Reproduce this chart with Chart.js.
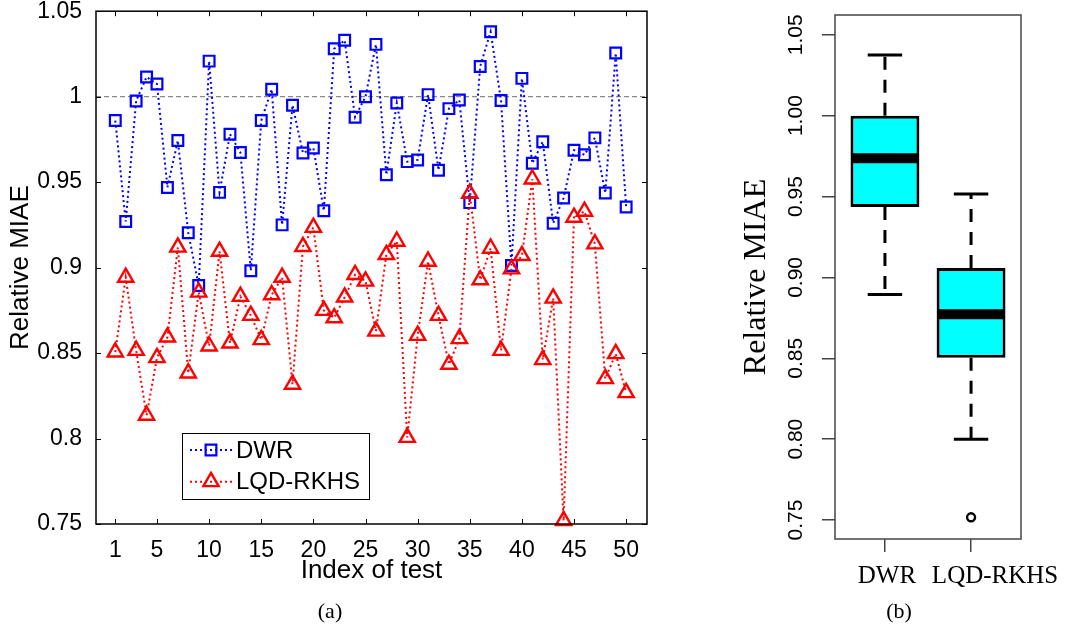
<!DOCTYPE html>
<html>
<head>
<meta charset="utf-8">
<script src="https://cdn.jsdelivr.net/npm/chart.js@4.4.0/dist/chart.umd.min.js"></script>
<style>
body { margin: 0; background: #fff; }
canvas { position: absolute; top: 0; }
#miaeLines { left: 0; }
#miaeBox { left: 700px; }
</style>
</head>
<body>
<canvas id="miaeLines" width="700" height="629"></canvas>
<canvas id="miaeBox" width="365" height="629"></canvas>
<script>
// panel (a): relative MIAE per test
const testIndex = [1, 2, 3, 4, 5, 6, 7, 8, 9, 10, 11, 12, 13, 14, 15, 16, 17, 18, 19, 20,
    21, 22, 23, 24, 25, 26, 27, 28, 29, 30, 31, 32, 33, 34, 35, 36, 37, 38, 39, 40,
    41, 42, 43, 44, 45, 46, 47, 48, 49, 50];
const dwrValues = [0.986, 0.927, 0.9975, 1.0115, 1.0074, 0.9469, 0.9743, 0.9204, 0.8895, 1.0208,
    0.944, 0.978, 0.9673, 0.8982, 0.986, 1.0043, 0.925, 0.995, 0.967, 0.970,
    0.9333, 1.028, 1.033, 0.988, 1.000, 1.0306, 0.9543, 0.9963, 0.962, 0.963,
    1.0012, 0.957, 0.993, 0.998, 0.938, 1.0177, 1.038, 0.9977, 0.9012, 1.0107,
    0.961, 0.9736, 0.926, 0.9407, 0.9687, 0.966, 0.9759, 0.9436, 1.0255, 0.9354];
const lqdValues = [0.8506, 0.8943, 0.8515, 0.8136, 0.8473, 0.8593, 0.9119, 0.8383, 0.8856, 0.8541,
    0.9095, 0.8558, 0.8831, 0.872, 0.8578, 0.8841, 0.8943, 0.8317, 0.9123, 0.9235,
    0.8749, 0.8706, 0.8827, 0.8959, 0.892, 0.8628, 0.9076, 0.9154, 0.8006, 0.8603,
    0.9037, 0.872, 0.8434, 0.8584, 0.9434, 0.8928, 0.9113, 0.8515, 0.8992, 0.907,
    0.9518, 0.8461, 0.8821, 0.7519, 0.9294, 0.9329, 0.9138, 0.835, 0.8496, 0.8268];
const xTicksA = [1, 5, 10, 15, 20, 25, 30, 35, 40, 45, 50];
const yTicksA = [0.75, 0.8, 0.85, 0.9, 0.95, 1, 1.05];
const yTickLabelsA = ['0.75', '0.8', '0.85', '0.9', '0.95', '1', '1.05'];
const refLevel = 1;

// panel (b): boxplot stats
const boxNames = ['DWR', 'LQD-RKHS'];
const boxPos = [1, 2];
const boxLow = [0.8895, 0.800];
const boxQ1 = [0.9435, 0.8504];
const boxMedian = [0.9737, 0.8772];
const boxQ3 = [1.000, 0.9058];
const boxHigh = [1.0375, 0.9515];
const outlierPos = [2];
const outlierValues = [0.7517];
const yTicksB = [0.75, 0.80, 0.85, 0.90, 0.95, 1.00, 1.05];

const sansFont = 'Liberation Sans';
const serifFont = 'Liberation Serif';

function fixedTicks(list) {
    return function (scale) {
        scale.ticks = list.map(v => ({ value: v }));
    };
}

const linesPlugin = {
    id: 'linesFrame',
    beforeDatasetsDraw(chart) {
        const { ctx, chartArea: a, scales: { y } } = chart;
        const yy = y.getPixelForValue(refLevel);
        ctx.save();
        ctx.strokeStyle = '#8a8a8a';
        ctx.lineWidth = 1.2;
        ctx.setLineDash([5, 3]);
        ctx.beginPath();
        ctx.moveTo(a.left, yy);
        ctx.lineTo(a.right, yy);
        ctx.stroke();
        ctx.restore();
    },
    afterDatasetsDraw(chart) {
        const { ctx, chartArea: a, scales: { x, y } } = chart;
        ctx.save();
        ctx.strokeStyle = '#000';
        ctx.lineWidth = 1.5;
        ctx.strokeRect(a.left, a.top, a.right - a.left, a.bottom - a.top);
        ctx.lineWidth = 1;
        ctx.beginPath();
        for (const v of xTicksA) {
            const px = Math.round(x.getPixelForValue(v)) + 0.5;
            ctx.moveTo(px, a.bottom); ctx.lineTo(px, a.bottom - 5);
            ctx.moveTo(px, a.top); ctx.lineTo(px, a.top + 5);
        }
        for (const v of yTicksA) {
            const py = Math.round(y.getPixelForValue(v)) + 0.5;
            ctx.moveTo(a.left, py); ctx.lineTo(a.left + 5, py);
            ctx.moveTo(a.right, py); ctx.lineTo(a.right - 5, py);
        }
        ctx.stroke();
        ctx.restore();
    },
    afterDraw(chart) {
        const ctx = chart.ctx;
        // legend inside the axes
        const bx = 182, by = 433, bw = 187, bh = 66;
        ctx.save();
        ctx.fillStyle = '#fff';
        ctx.fillRect(bx, by, bw, bh);
        ctx.strokeStyle = '#000';
        ctx.lineWidth = 1;
        ctx.strokeRect(bx + 0.5, by + 0.5, bw, bh);
        chart.data.datasets.forEach((ds, i) => {
            const yy = by + 17 + i * 31.7;
            ctx.strokeStyle = ds.borderColor;
            ctx.lineWidth = ds.borderWidth;
            ctx.setLineDash(ds.borderDash);
            ctx.beginPath();
            ctx.moveTo(bx + 8, yy);
            ctx.lineTo(bx + 51, yy);
            ctx.stroke();
            ctx.setLineDash([]);
            ctx.fillStyle = 'rgba(0,0,0,0)';
            ctx.lineWidth = ds.pointBorderWidth;
            Chart.helpers.drawPoint(ctx, {
                pointStyle: ds.pointStyle, radius: ds.pointRadius,
                borderWidth: ds.pointBorderWidth, rotation: 0
            }, bx + 29, yy);
            ctx.fillStyle = '#000';
            ctx.font = '24px "' + sansFont + '"';
            ctx.textBaseline = 'middle';
            ctx.textAlign = 'left';
            ctx.fillText(ds.label, bx + 54, yy + 1);
        });
        ctx.font = '22px "' + serifFont + '"';
        ctx.textAlign = 'center';
        ctx.fillText('(a)', 330, 612);
        ctx.restore();
    }
};

const lineChart = new Chart(document.getElementById('miaeLines'), {
    type: 'line',
    data: {
        labels: testIndex,
        datasets: [
            {
                label: 'DWR',
                data: testIndex.map((t, i) => ({ x: t, y: dwrValues[i] })),
                borderColor: '#0000ff',
                borderWidth: 2,
                borderDash: [2, 3],
                pointStyle: 'rect',
                pointRadius: 7.6,
                pointBorderWidth: 2.2,
                pointBorderColor: '#0000ff',
                pointBackgroundColor: 'rgba(0,0,0,0)',
                tension: 0,
                clip: false,
                order: 1,
            },
            {
                label: 'LQD-RKHS',
                data: testIndex.map((t, i) => ({ x: t, y: lqdValues[i] })),
                borderColor: '#ff0000',
                borderWidth: 2,
                borderDash: [2, 3],
                pointStyle: 'triangle',
                pointRadius: 8.8,
                pointBorderWidth: 2.4,
                pointBorderColor: '#ff0000',
                pointBackgroundColor: 'rgba(0,0,0,0)',
                tension: 0,
                clip: false,
                order: 0,
            },
        ],
    },
    options: {
        responsive: false,
        animation: false,
        events: [],
        layout: { padding: { top: 9, right: 53, left: 0, bottom: 0 } },
        plugins: { legend: { display: false }, tooltip: { enabled: false } },
        scales: {
            x: {
                type: 'linear',
                min: -0.85,
                max: 52,
                afterBuildTicks: fixedTicks(xTicksA),
                afterFit(s) { s.height = 105; s.paddingLeft = 0; s.paddingRight = 0; },
                grid: { display: false },
                border: { display: false },
                ticks: { color: '#000', padding: 5, maxRotation: 0, font: { family: sansFont, size: 23 } },
                title: {
                    display: true, text: 'Index of test', color: '#000',
                    font: { family: sansFont, size: 26 }, padding: { top: 0, bottom: 43 }
                },
            },
            y: {
                min: 0.75,
                max: 1.05,
                afterBuildTicks: fixedTicks(yTicksA),
                afterFit(s) { s.width = 96; s.paddingTop = 0; s.paddingBottom = 0; },
                grid: { display: false },
                border: { display: false },
                ticks: {
                    color: '#000', padding: 6, font: { family: sansFont, size: 23 },
                    callback: (v, i) => yTickLabelsA[i],
                },
                title: {
                    display: true, text: 'Relative MIAE', color: '#000',
                    font: { family: sansFont, size: 26 }, padding: { top: 5, bottom: 0 }
                },
            },
        },
    },
    plugins: [linesPlugin],
});

const boxPlugin = {
    id: 'boxParts',
    beforeDatasetsDraw(chart) {
        const { ctx, scales: { x, y } } = chart;
        ctx.save();
        ctx.strokeStyle = '#000';
        ctx.lineWidth = 3;
        ctx.setLineDash([13, 10]);
        boxPos.forEach((p, i) => {
            const px = x.getPixelForValue(p);
            ctx.beginPath();
            ctx.moveTo(px, y.getPixelForValue(boxQ3[i]));
            ctx.lineTo(px, y.getPixelForValue(boxHigh[i]));
            ctx.moveTo(px, y.getPixelForValue(boxQ1[i]));
            ctx.lineTo(px, y.getPixelForValue(boxLow[i]));
            ctx.stroke();
        });
        ctx.restore();
    },
    afterDatasetsDraw(chart) {
        const { ctx, chartArea: a, scales: { x, y } } = chart;
        ctx.save();
        ctx.strokeStyle = '#000';
        boxPos.forEach((p, i) => {
            const px = x.getPixelForValue(p);
            const cap = x.getPixelForValue(p + 0.2) - px;
            const half = x.getPixelForValue(p + 0.4) - px;
            ctx.lineWidth = 3;
            ctx.beginPath();
            ctx.moveTo(px - cap, y.getPixelForValue(boxHigh[i]));
            ctx.lineTo(px + cap, y.getPixelForValue(boxHigh[i]));
            ctx.moveTo(px - cap, y.getPixelForValue(boxLow[i]));
            ctx.lineTo(px + cap, y.getPixelForValue(boxLow[i]));
            ctx.stroke();
            ctx.lineWidth = 10;
            ctx.beginPath();
            ctx.moveTo(px - half + 1, y.getPixelForValue(boxMedian[i]));
            ctx.lineTo(px + half - 1, y.getPixelForValue(boxMedian[i]));
            ctx.stroke();
        });
        ctx.strokeStyle = '#444';
        ctx.lineWidth = 1.5;
        ctx.strokeRect(a.left, a.top, a.right - a.left, a.bottom - a.top);
        // group names under the ticks; the long one sits a bit to the right as in the figure
        ctx.fillStyle = '#000';
        ctx.font = '25px "' + serifFont + '"';
        ctx.textAlign = 'center';
        ctx.textBaseline = 'middle';
        boxNames.forEach((name, i) => {
            const shift = i === boxNames.length - 1 ? 24 : 2;
            ctx.fillText(name, x.getPixelForValue(boxPos[i]) + shift, 576);
        });
        ctx.font = '22px "' + serifFont + '"';
        ctx.fillText('(b)', 199, 612);
        ctx.restore();
    }
};

const boxChart = new Chart(document.getElementById('miaeBox'), {
    type: 'bar',
    data: {
        datasets: [
            {
                type: 'bar',
                data: boxPos.map((p, i) => ({ x: p, y: [boxQ1[i], boxQ3[i]] })),
                backgroundColor: '#00ffff',
                borderColor: '#000',
                borderWidth: 3,
                borderSkipped: false,
                barPercentage: 0.8,
                categoryPercentage: 1,
                order: 1,
            },
            {
                type: 'scatter',
                data: outlierPos.map((p, i) => ({ x: p, y: outlierValues[i] })),
                pointStyle: 'circle',
                pointRadius: 4,
                borderWidth: 2.4,
                borderColor: '#000',
                backgroundColor: '#fff',
                order: 0,
            },
        ],
    },
    options: {
        responsive: false,
        animation: false,
        events: [],
        layout: { padding: { top: 15, right: 44, left: 0, bottom: 0 } },
        plugins: { legend: { display: false }, tooltip: { enabled: false } },
        scales: {
            x: {
                type: 'linear',
                min: 0.42,
                max: 2.58,
                offset: false,
                afterBuildTicks: fixedTicks(boxPos),
                afterFit(s) { s.height = 90; s.paddingLeft = 0; s.paddingRight = 0; },
                grid: { display: true, offset: false, drawOnChartArea: false, drawTicks: true, tickLength: 13, color: '#444', lineWidth: 1.5 },
                border: { display: false },
                ticks: { display: false },
            },
            y: {
                min: 0.7383,
                max: 1.0622,
                beginAtZero: false,
                afterBuildTicks: fixedTicks(yTicksB),
                afterFit(s) { s.width = 135; s.paddingTop = 0; s.paddingBottom = 0; },
                grid: { display: true, drawOnChartArea: false, drawTicks: true, tickLength: 13, color: '#444', lineWidth: 1.5 },
                border: { display: false },
                ticks: {
                    color: '#000', padding: 5, minRotation: 90, maxRotation: 90, crossAlign: 'center',
                    font: { family: sansFont, size: 21 },
                    callback: v => v.toFixed(2),
                },
                title: {
                    display: true, text: 'Relative MIAE', color: '#000',
                    font: { family: serifFont, size: 32 }, padding: { top: 37, bottom: 0 }
                },
            },
        },
    },
    plugins: [boxPlugin],
});
</script>
</body>
</html>
